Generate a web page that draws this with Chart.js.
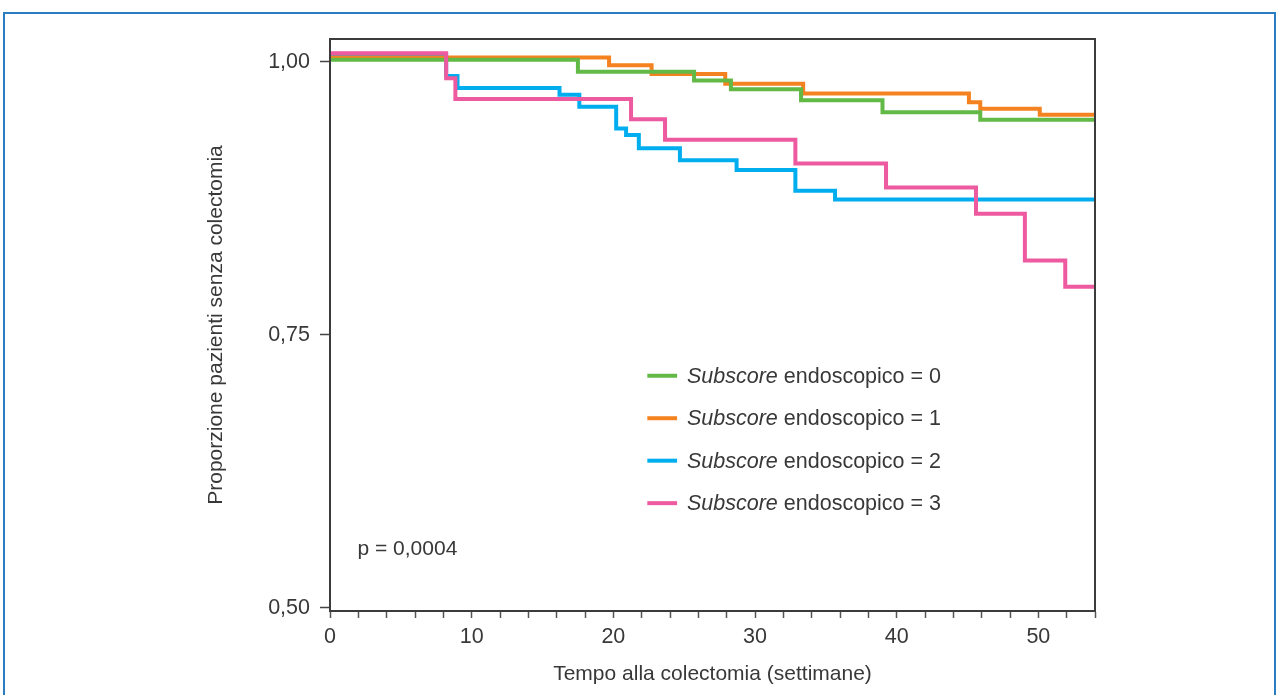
<!DOCTYPE html>
<html><head><meta charset="utf-8">
<script src="https://cdn.jsdelivr.net/npm/chart.js@4.4.1/dist/chart.umd.min.js"></script>
<style>
html,body{margin:0;padding:0;background:#fff;}
#wrap{position:relative;width:1279px;height:695px;overflow:hidden;background:#fff;}
#frame{position:absolute;left:3px;top:12px;width:1273px;height:700px;border:2px solid #2a7dc0;box-sizing:border-box;}
canvas{position:absolute;left:0;top:0;}
</style></head><body>
<div id="wrap"><div id="frame"></div><canvas id="c" width="1279" height="695"></canvas></div>
<script>
// ---- data ----
const seriesNames = ['0', '1', '2', '3'];
const seriesColors = ['#62b946', '#f58220', '#00aeef', '#ee5a9f'];

const timesScore0 = [0, 17.5, 25.7, 28.3, 33.25, 39.0, 45.9, 54];
const survScore0  = [1.002, 0.991, 0.983, 0.975, 0.965, 0.954, 0.947, 0.947];

const timesScore1 = [0, 19.7, 22.7, 27.9, 33.4, 45.1, 45.9, 50.1, 54];
const survScore1  = [1.004, 0.997, 0.989, 0.980, 0.971, 0.963, 0.957, 0.9515, 0.9515];

const timesScore2 = [0, 8.2, 9.0, 16.2, 17.6, 20.2, 20.9, 21.8, 24.7, 28.7, 32.85, 35.65, 54];
const survScore2  = [1.006, 0.987, 0.976, 0.970, 0.959, 0.939, 0.933, 0.921, 0.910, 0.901, 0.882, 0.874, 0.874];

const timesScore3 = [0, 8.2, 8.85, 21.25, 23.65, 32.85, 39.25, 45.6, 49.05, 51.9, 54];
const survScore3  = [1.008, 0.985, 0.966, 0.9475, 0.9286, 0.907, 0.885, 0.861, 0.818, 0.794, 0.794];

const yTickValues = [0.5, 0.75, 1.0];
const xTickValues = [0,2,4,6,8,10,12,14,16,18,20,22,24,26,28,30,32,34,36,38,40,42,44,46,48,50,52,54];
const xLabelValues = [0, 10, 20, 30, 40, 50];

const xTitle = 'Tempo alla colectomia (settimane)';
const yTitle = 'Proporzione pazienti senza colectomia';
const legendItalic = 'Subscore';
const legendRest = ' endoscopico = ';
const pValueText = 'p = 0,0004';

// ---- build ----
const allTimes = [timesScore0, timesScore1, timesScore2, timesScore3];
const allSurv = [survScore0, survScore1, survScore2, survScore3];
const drawOrder = [1, 2, 3, 0];

const FONT = "'Liberation Sans', Arial, sans-serif";
const TXT = '#383838';

const datasets = seriesNames.map((n, i) => ({
  label: legendItalic + legendRest + n,
  data: allTimes[i].map((t, k) => ({x: t, y: allSurv[i][k]})),
  borderColor: seriesColors[i],
  backgroundColor: seriesColors[i],
  borderWidth: 4,
  pointRadius: 0,
  stepped: 'before',
  fill: false,
  order: drawOrder[i]
}));

const overlay = {
  id: 'overlay',
  afterDraw(chart) {
    const {ctx, chartArea: a, scales: {x, y}} = chart;
    ctx.save();
    ctx.strokeStyle = '#3c3c3c';
    ctx.lineWidth = 2;
    ctx.strokeRect(a.left, a.top, a.right - a.left, a.bottom - a.top);
    const lx0 = x.getPixelForValue(22.4), lx1 = x.getPixelForValue(24.5), tx = x.getPixelForValue(25.2);
    const ly0 = 0.7125, dy = 0.0389;
    seriesNames.forEach((n, i) => {
      const py = y.getPixelForValue(ly0 - i * dy);
      ctx.strokeStyle = seriesColors[i];
      ctx.lineWidth = 4;
      ctx.beginPath(); ctx.moveTo(lx0, py); ctx.lineTo(lx1, py); ctx.stroke();
      ctx.fillStyle = TXT;
      ctx.textBaseline = 'middle';
      ctx.textAlign = 'left';
      ctx.font = 'italic 21.5px ' + FONT;
      ctx.fillText(legendItalic, tx, py + 1);
      const w = ctx.measureText(legendItalic).width;
      ctx.font = '21.5px ' + FONT;
      ctx.fillText(legendRest + n, tx + w, py + 1);
    });
    ctx.font = '21px ' + FONT;
    ctx.fillStyle = TXT;
    ctx.fillText(pValueText, x.getPixelForValue(1.94), y.getPixelForValue(0.554));
    ctx.restore();
  }
};

new Chart(document.getElementById('c'), {
  type: 'line',
  data: {datasets},
  options: {
    responsive: false,
    animation: false,
    layout: {padding: {left: 200, top: 39, right: 184, bottom: 0}},
    plugins: {legend: {display: false}, tooltip: {enabled: false}},
    scales: {
      x: {
        type: 'linear', min: 0, max: 54,
        afterBuildTicks: s => { s.ticks = xTickValues.map(v => ({value: v})); },
        afterFit: s => { s.height = 84; },
        ticks: {
          autoSkip: false, maxRotation: 0, padding: 6,
          color: TXT, font: {family: FONT, size: 21.5},
          callback: v => xLabelValues.includes(Math.round(v)) ? String(Math.round(v)) : ''
        },
        grid: {display: true, drawOnChartArea: false, drawTicks: true, tickLength: 7, tickColor: '#555', tickWidth: 1.5},
        border: {display: true, color: '#3c3c3c', width: 2},
        title: {display: true, text: xTitle, color: TXT, font: {family: FONT, size: 21}, padding: {top: 8, bottom: 8}}
      },
      y: {
        type: 'linear', min: 0.497, max: 1.021,
        afterBuildTicks: s => { s.ticks = yTickValues.map(v => ({value: v})); },
        afterFit: s => { s.width = 130; },
        ticks: {
          padding: 10, color: TXT, font: {family: FONT, size: 21.5},
          callback: v => Number(v).toFixed(2).replace('.', ',')
        },
        grid: {display: true, drawOnChartArea: false, drawTicks: true, tickLength: 10, tickColor: '#444', tickWidth: 1.5},
        border: {display: true, color: '#3c3c3c', width: 2},
        title: {display: true, text: yTitle, color: TXT, font: {family: FONT, size: 21}, padding: {top: 4, bottom: 4}}
      }
    }
  },
  plugins: [overlay]
});
</script>
</body></html>
